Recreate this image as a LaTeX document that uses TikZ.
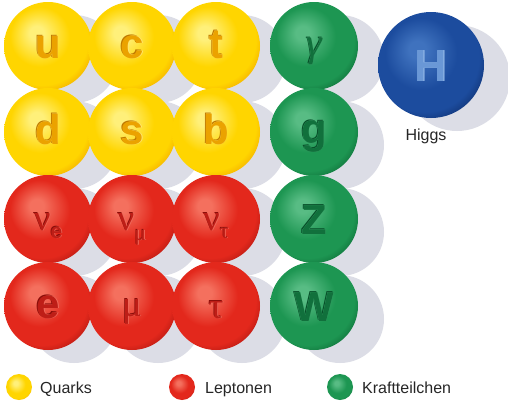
\documentclass[tikz,border=0pt]{standalone}
\usepackage{fontspec}
\setmainfont{Liberation Sans}
\newfontfamily\grk{Liberation Serif}

% ball palettes: highlight, body, rim, letter ink, letter light edge, letter dark edge
\definecolor{yhi}{HTML}{FFF07A}
\definecolor{ymain}{HTML}{FFD500}
\definecolor{yedge}{HTML}{F0A000}
\definecolor{yink}{HTML}{EBA200}
\definecolor{ylite}{HTML}{FFE572}
\definecolor{ydeep}{HTML}{C07A00}

\definecolor{rhi}{HTML}{F4705E}
\definecolor{rmain}{HTML}{E3281C}
\definecolor{redge}{HTML}{A81510}
\definecolor{rink}{HTML}{BE1E17}
\definecolor{rlite}{HTML}{F06A5C}
\definecolor{rdeep}{HTML}{8A0E0A}

\definecolor{ghi}{HTML}{58BC84}
\definecolor{gmain}{HTML}{1D9652}
\definecolor{gedge}{HTML}{0B6532}
\definecolor{gink}{HTML}{11703C}
\definecolor{glite}{HTML}{4CB47A}
\definecolor{gdeep}{HTML}{07502A}

\definecolor{bhi}{HTML}{3F72BE}
\definecolor{bmain}{HTML}{1C4C9E}
\definecolor{bedge}{HTML}{0C2A66}
\definecolor{bink}{HTML}{6A98D6}
\definecolor{blite}{HTML}{9CC0EC}
\definecolor{bdeep}{HTML}{143C80}

\definecolor{shadowgray}{HTML}{DCDDE6}

\pgfdeclareradialshading{yballshade}{\pgfpoint{-7bp}{8bp}}{color(0bp)=(yhi); color(4bp)=(yhi); color(17bp)=(ymain); color(26bp)=(ymain); color(33bp)=(yedge); color(50bp)=(yedge)}
\pgfdeclareradialshading{rballshade}{\pgfpoint{-7bp}{8bp}}{color(0bp)=(rhi); color(4bp)=(rhi); color(17bp)=(rmain); color(26bp)=(rmain); color(33bp)=(redge); color(50bp)=(redge)}
\pgfdeclareradialshading{gballshade}{\pgfpoint{-7bp}{8bp}}{color(0bp)=(ghi); color(4bp)=(ghi); color(17bp)=(gmain); color(26bp)=(gmain); color(33bp)=(gedge); color(50bp)=(gedge)}
\pgfdeclareradialshading{bballshade}{\pgfpoint{-7bp}{8bp}}{color(0bp)=(bhi); color(4bp)=(bhi); color(17bp)=(bmain); color(26bp)=(bmain); color(33bp)=(bedge); color(50bp)=(bedge)}

\tikzset{
  sphere/.style={circle, inner sep=0pt, minimum size=88pt, shading=#1},
  bigsphere/.style={sphere=#1, minimum size=106pt},
  minisphere/.style={sphere=#1, minimum size=26pt},
  castshadow/.style={circle, inner sep=0pt, minimum size=88pt, fill=shadowgray},
  glyph/.style={anchor=base, inner sep=0pt},
  latinsym/.style={font=\fontsize{42}{42}\selectfont\bfseries},
  greeksym/.style={font=\grk\fontsize{37}{37}\selectfont},
  legendtext/.style={anchor=base west, inner sep=0pt, font=\fontsize{16}{16}\selectfont, text=black!85},
}

% engraved symbol: dark edge up-left, light edge down-right, ink on top
\newcommand\engrave[6]{%
  \node[glyph, #3, text=#6] at ([shift={(-0.6pt,0.6pt)}]#2) {#4};
  \node[glyph, #3, text=#5] at ([shift={(0.8pt,-0.8pt)}]#2) {#4};
  \node[glyph, #3, text=#1ink] (#1-#2) at (#2) {#4};}

\newcommand\ysym[3]{\engrave{y}{#1}{#2}{#3}{ylite}{ydeep}}
\newcommand\rsym[3]{\engrave{r}{#1}{#2}{#3}{rlite}{rdeep}}
\newcommand\gsym[3]{\engrave{g}{#1}{#2}{#3}{glite}{gdeep}}

\begin{document}
\begin{tikzpicture}[x=1pt, y=-1pt]
\useasboundingbox (0,0) rectangle (508,402);
\fill[white] (0,0) rectangle (508,402);

% cast shadows behind every sphere
\foreach \cx in {48,132,216,314}
  \foreach \cy in {46,132,219,306}
    \node[castshadow] (sh-\cx-\cy) at (\cx+26,\cy+13) {};
\node[castshadow, minimum size=106pt] (sh-higgs) at (457,78) {};

% quarks
\node[sphere=yballshade] (u) at (48,46) {};
\node[sphere=yballshade] (c) at (132,46) {};
\node[sphere=yballshade] (t) at (216,46) {};
\node[sphere=gballshade] (gamma) at (314,46) {};
\node[sphere=yballshade] (d) at (48,132) {};
\node[sphere=yballshade] (s) at (132,132) {};
\node[sphere=yballshade] (b) at (216,132) {};
\node[sphere=gballshade] (gluon) at (314,132) {};
% leptons
\node[sphere=rballshade] (nue) at (48,219) {};
\node[sphere=rballshade] (numu) at (132,219) {};
\node[sphere=rballshade] (nutau) at (216,219) {};
\node[sphere=gballshade] (Z) at (314,219) {};
\node[sphere=rballshade] (e) at (48,306) {};
\node[sphere=rballshade] (mu) at (132,306) {};
\node[sphere=rballshade] (tau) at (216,306) {};
\node[sphere=gballshade] (W) at (314,306) {};
% Higgs
\node[bigsphere=bballshade] (H) at (431,65) {};

% symbols on the spheres
\ysym{48,58}{latinsym}{u}
\ysym{132,58}{latinsym}{c}
\ysym{216,58}{latinsym}{t}
\ysym{48,144}{latinsym}{d}
\ysym{132,144}{latinsym}{s}
\ysym{216,144}{latinsym}{b}

\rsym{48,230}{greeksym}{ν\raisebox{-8pt}{\fontspec{Liberation Sans}\fontsize{21}{21}\selectfont\bfseries e}}
\rsym{132,230}{greeksym}{ν\raisebox{-10pt}{\fontsize{22}{22}\selectfont μ}}
\rsym{216,230}{greeksym}{ν\raisebox{-8pt}{\fontsize{22}{22}\selectfont τ}}
\rsym{48,318}{latinsym}{e}
\rsym{132,316}{greeksym}{μ}
\rsym{216,318}{greeksym}{τ}

\gsym{314,56}{font=\grk\itshape\fontsize{40}{40}\selectfont}{γ}
\gsym{314,143}{latinsym}{g}
\gsym{314,234}{latinsym}{Z}
\gsym{314,321}{latinsym}{W}

\node[glyph, font=\fontsize{45}{45}\selectfont\bfseries, text=blite] at (431.8,81.8) {H};
\node[glyph, font=\fontsize{45}{45}\selectfont\bfseries, text=bink] (H-sym) at (431,81) {H};
\node[glyph, font=\fontsize{16}{16}\selectfont, text=black!85] (higgs-label) at (426,140) {Higgs};

% legend
\node[minisphere=yballshade] (key-q) at (19,387) {};
\node[legendtext] (key-q-text) at (40,393) {Quarks};
\node[minisphere=rballshade] (key-l) at (182,387) {};
\node[legendtext] (key-l-text) at (205,393) {Leptonen};
\node[minisphere=gballshade] (key-k) at (340,387) {};
\node[legendtext] (key-k-text) at (362,393) {Kraftteilchen};
\end{tikzpicture}
\end{document}
